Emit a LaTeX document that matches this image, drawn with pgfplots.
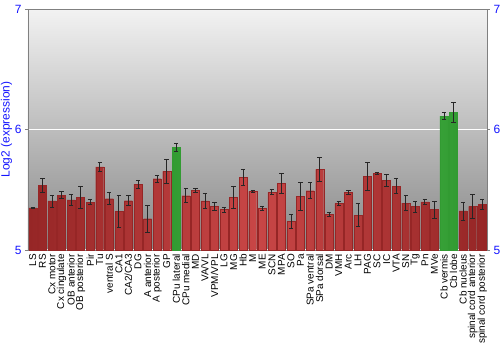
\documentclass[border=0pt]{standalone}
\usepackage{pgfplots}
\pgfplotsset{compat=1.18}
\usepackage{fontspec}
\setmainfont{Liberation Sans}
\definecolor{tickblue}{RGB}{20,20,255}
\definecolor{barred}{RGB}{200,70,70}
\definecolor{barreddark}{RGB}{150,38,38}
\definecolor{bargreen}{RGB}{90,200,90}
\definecolor{bargreendark}{RGB}{50,155,50}
\begin{document}
\begin{tikzpicture}
\useasboundingbox (-28bp,-100bp) rectangle (472bp,250bp);
\begin{axis}[
  scale only axis,
  width=459bp, height=241bp,
  xmin=-0.5, xmax=47.5, ymin=5, ymax=7,
  axis background/.style={shade, top color=black!5, middle color=black!30, bottom color=black!47},
  axis line style={black!50},
  ytick={5,6,7},
  ymajorgrids, grid style={white, line width=1.2bp},
  ytick pos=left,
  tick style={black!50},
  major tick length=3bp,
  tick align=outside,
  yticklabel style={font=\fontsize{12}{12}\selectfont, text=tickblue},
  /pgf/number format/assume math mode=true,
  ylabel={Log2 (expression)},
  ylabel style={font=\fontsize{12}{12}\selectfont, text=tickblue},
  ylabel shift=-4bp,
  xtick={0,...,47},
  xtick style={draw=none},
  xticklabels={LS,RS,Cx motor,Cx cingulate,OB anterior,OB posterior,Pir,Tu,ventral S,CA1,CA2/CA3,DG,A anterior,A posterior,GP,CPu lateral,CPu medial,MD,VA/VL,VPM/VPL,LG,MG,Hb,M,ME,SCN,MPA,SO,Pa,SPa ventral,SPa dorsal,DM,VMH,Arc,LH,PAG,SC,IC,VTA,SN,Tg,Pn,MVe,Cb vermis,Cb lobe,Cb nucleus,spinal cord anterior,spinal cord posterior},
  xticklabel style={rotate=90, anchor=east, font=\fontsize{10}{10}\selectfont, inner sep=1bp},
  ybar, bar width=8bp,
  error bars/y dir=both, error bars/y explicit,
  error bars/error bar style={black!85, line width=0.8bp},
  error bars/error mark options={rotate=90, mark size=2.2bp, black!85, line width=0.8bp},
]
\addplot[/pgf/bar shift=0pt, draw=barreddark, line width=0.3bp, left color=barreddark, right color=barreddark, middle color=barred] coordinates {
(0,5.35)+-(0,0.005)
(1,5.537)+-(0,0.06)
(2,5.407)+-(0,0.05)
(3,5.456)+-(0,0.03)
(4,5.415)+-(0,0.045)
(5,5.437)+-(0,0.09)
(6,5.396)+-(0,0.02)
(7,5.69)+-(0,0.04)
(8,5.426)+-(0,0.05)
(9,5.32)+-(0,0.13)
(10,5.409)+-(0,0.04)
(11,5.545)+-(0,0.035)
(12,5.26)+-(0,0.11)
(13,5.592)+-(0,0.03)
(14,5.653)+-(0,0.1)
(16,5.451)+-(0,0.06)
(17,5.495)+-(0,0.02)
(18,5.407)+-(0,0.065)
(19,5.36)+-(0,0.035)
(20,5.335)+-(0,0.02)
(21,5.437)+-(0,0.09)
(22,5.603)+-(0,0.07)
(23,5.487)+-(0,0.005)
(24,5.346)+-(0,0.015)
(25,5.479)+-(0,0.02)
(26,5.553)+-(0,0.085)
(27,5.238)+-(0,0.055)
(28,5.445)+-(0,0.115)
(29,5.492)+-(0,0.065)
(30,5.67)+-(0,0.1)
(31,5.296)+-(0,0.015)
(32,5.387)+-(0,0.02)
(33,5.479)+-(0,0.015)
(34,5.29)+-(0,0.095)
(35,5.611)+-(0,0.115)
(36,5.639)+-(0,0.008)
(37,5.578)+-(0,0.047)
(38,5.531)+-(0,0.06)
(39,5.39)+-(0,0.06)
(40,5.36)+-(0,0.047)
(41,5.40)+-(0,0.022)
(42,5.335)+-(0,0.072)
(45,5.324)+-(0,0.075)
(46,5.362)+-(0,0.1)
(47,5.379)+-(0,0.04)
};
\addplot[/pgf/bar shift=0pt, draw=bargreendark, line width=0.3bp, left color=bargreendark, right color=bargreendark, middle color=bargreen] coordinates {
(15,5.852)+-(0,0.03)
(43,6.112)+-(0,0.03)
(44,6.14)+-(0,0.085)
};
\end{axis}
\begin{axis}[
  scale only axis,
  width=459bp, height=241bp,
  xmin=-0.5, xmax=47.5, ymin=5, ymax=7,
  axis x line=none,
  axis y line*=right,
  axis line style={black!50},
  ytick={5,6,7},
  tick style={black!50},
  major tick length=3bp,
  tick align=outside,
  yticklabel style={font=\fontsize{12}{12}\selectfont, text=tickblue},
  /pgf/number format/assume math mode=true,
]
\addplot[draw=none] coordinates {(0,5)};
\end{axis}
\end{tikzpicture}
\end{document}
